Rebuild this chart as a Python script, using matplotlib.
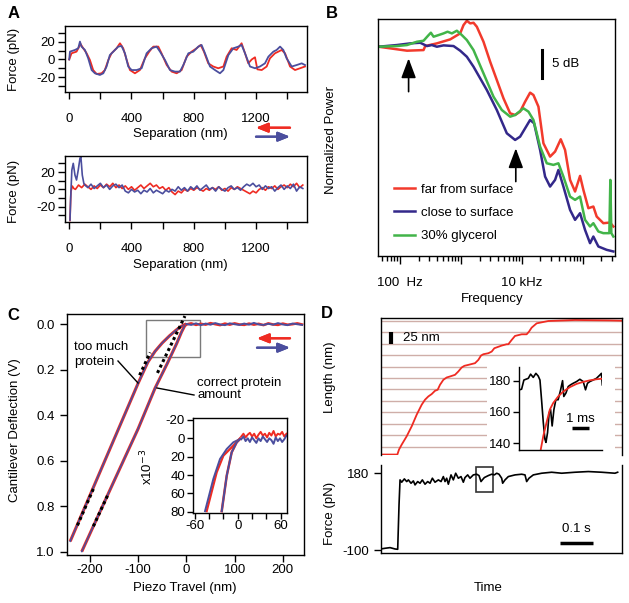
import matplotlib.pyplot as plt
from matplotlib.patches import Rectangle
from matplotlib.ticker import NullFormatter

plt.rcParams['font.family'] = ['Liberation Sans', 'DejaVu Sans']
plt.rcParams['font.size'] = 9.5
plt.rcParams['axes.linewidth'] = 1.0
plt.rcParams['axes.unicode_minus'] = False

W, H = 629, 603
RED = '#ef2b22'
BLUE = '#4b4e9e'
B_RED = '#f23a2c'
B_BLUE = '#33288a'
B_GREEN = '#42b449'
GRID = '#cfaea8'

# ---- panel A: force vs separation ----
a_top_blue_x = [0, 5, 37, 58, 69, 79, 101, 122, 144, 165, 197, 219, 240, 261, 283, 315, 336, 358, 379, 401,
                433, 465, 497, 529, 561, 583, 615, 647, 679, 711, 733, 765, 797, 829, 850, 872, 904, 936, 968, 990,
                1022, 1054, 1086, 1107, 1129, 1161, 1193, 1225, 1257, 1279, 1311, 1332, 1354, 1375, 1396, 1429,
                1461, 1493, 1514]
a_top_blue_y = [0, 8.9, 10.8, 12.7, 20.3, 14.6, 10.8, 1.3, -12, -15.7, -17.6, -15.7, -8, 5, 8.9, 14.6, 15.3, 7, -8, -12,
                -12, -10, 7, 12.7, 14.6, 8.9, -0.6, -12, -13.8, -13.8, -6.3, 7, 8.9, 14.6, 16.5, 7, -8, -12, -15.7, -12,
                5, 12.7, 14.6, 16.5, 7, -8, -10, -8, -4.4, 3.2, 8.9, 10.8, 14.6, 10.8, 1.3, -8, -6.3, -4.4, -6.3]
a_top_red_x = [0, 15, 47, 73, 90, 112, 133, 154, 176, 208, 229, 251, 272, 304, 326, 347, 369, 390, 422, 454,
               486, 514, 540, 572, 593, 626, 658, 690, 722, 754, 786, 818, 844, 865, 893, 925, 957, 990, 1011, 1043,
               1075, 1107, 1129, 1150, 1172, 1193, 1208, 1236, 1268, 1289, 1321, 1343, 1364, 1386, 1418, 1450,
               1482, 1514]
a_top_red_y = [0, 7, 8.9, 17.6, 12.7, 7, -0.6, -12, -16.5, -15.7, -12, -0.6, 7, 12.7, 18.4, 12.7, -0.6, -12, -15.7, -12,
               1.3, 8.9, 14.6, 14.6, 7, -6.3, -13.8, -15.7, -12, 3.2, 8.9, 12.7, 16.5, 8.9, -4.4, -8, -10, -8, 3.2, 12.7,
               10.8, 18.4, 7, -4.4, 0, 2.5, -11.2, -12, -8, 1.3, 7, 8.9, 10.8, 7, -8, -12, -10, -8]

a_bot_blue_x = [5, 9, 17, 26, 37, 47, 58, 69, 75, 84, 94] + list(range(100, 1501, 20))
a_bot_blue_y = [-35.4, -12.3, 22.3, 30, 16.5, 10.8, 22.3, 35.8, 37.7, 16.5, 6.9,
                5, 2, 6, 1, 4, 7, 2, 5, 0, 4, 6, 2, 5, -2, -4, 0, -3, -1, -5, -1, -3, 1, -4, -1, -3, -5, -1, -3, 0, -2,
                3, -1, 2, -2, 3, 0, 4, -1, 2, 5, 0, 2, -2, 3, 0, -2, 2, 4, 0, 2, -1, 3, 6, 4, 7, 3, 5, 0, 4, 1, 3,
                -2, 2, 5, 0, 4, 1, 6, -2, 3, 1]
a_bot_red_x = [5, 11, 20, 30] + list(range(40, 1501, 20))
a_bot_red_y = [-36, -2.7, 3.8, 1,
               0, 5, 2, 6, 3, 0, 4, 1, 5, 2, 6, 3, 7, 2, 5, 1, 4, 0, 3, -1, 2, 5, 1, 4, 7, 3, 5, 1, 3, -1, 2, -3, -6,
               -2, -4, 0, -2, 1, -1, 2, 0, -2, 1, -1, 2, 0, 3, -1, 1, -2, 2, 0, 3, 1, -1, -3, -5, -2, -4, 0, 2, -1,
               3, 1, 4, 0, 3, 5, 2, 6, 3, 7, 2, 5]

# ---- panel B: power spectra (Hz, dB) ----
b_red_f = [44, 129, 241, 257, 399, 660, 963, 1092, 1238, 1405, 1594, 1807, 2323, 2988, 3843, 4943, 6358, 7677,
           9274, 11200, 13525, 15340, 18530, 22375, 28770, 34750, 43050, 50690, 61230, 73950, 89300, 101300,
           122300, 147700, 167500, 215400, 277100, 314400]
b_red_db = [0, -0.71, -0.60, 0.12, 0.60, 1.31, 2.38, 3.87, 4.64, 4.17, 4.28, 3.57, 0.89, -2.68, -5.95, -9.22,
            -11.90, -12.20, -11.60, -9.82, -8.21, -8.63, -10.71, -17.26, -19.64, -18.74, -16.54, -18.45, -23.80,
            -25.88, -23.09, -25.59, -28.86, -28.56, -30.35, -31.54, -31.42, -32.13]
b_blue_f = [44, 88, 146, 213, 274, 330, 399, 513, 749, 963, 1238, 1593, 2049, 2636, 3843, 5606, 7677, 9274,
            11200, 13525, 15730, 19730, 23825, 28770, 34750, 39410, 47610, 61230, 73950, 89300, 107800, 130250,
            147700, 178400, 244300, 314400]
b_blue_db = [0, 0.30, 0.60, 0.71, 0.12, 0.30, 0, 0.24, 0.12, -0.71, -1.79, -3.57, -5.65, -7.74, -11.31, -15.47,
             -16.66, -16.07, -14.58, -13.09, -13.69, -18.45, -23.21, -24.99, -23.80, -22.02, -24.99, -29.16,
             -30.94, -29.75, -32.73, -35.11, -33.92, -35.70, -36.30, -36.59]
b_green_f = [44, 88, 129, 188, 241, 292, 318, 352, 425, 513, 597, 703, 849, 1025, 1238, 1593, 2323, 3390, 4642,
             6358, 7677, 10517, 12700, 15340, 19730, 25375, 32640, 39410, 47610, 61230, 73950, 89300, 107800,
             130250, 147700, 178400, 215400, 270300, 280600, 291400, 314400]
b_green_db = [0, 0.12, 0.30, 0.89, 1.07, 2.08, 2.50, 1.79, 2.08, 2.38, 2.68, 2.38, 2.86, 2.08, 1.19, -0.60,
              -4.76, -8.93, -11.31, -12.50, -12.20, -11.01, -11.60, -13.09, -17.85, -20.83, -21.12, -20.83,
              -23.21, -26.78, -27.37, -26.78, -30.94, -32.13, -31.54, -33.02, -33.32, -33.32, -23.80, -33.32, -33.92]
b_labels = ['far from surface', 'close to surface', '30% glycerol']

# ---- panel C: deflection vs piezo travel ----
c_much_x = [-241, -170, -100, -80, -65, -50, -35, -22, -12, -5, 0]
c_much_y = [0.955, 0.605, 0.26, 0.168, 0.12, 0.083, 0.052, 0.028, 0.012, 0.004, 0.0]
c_ok_x = [-217, -150, -100, -65, -40, -20, -10, -4, 0]
c_ok_y = [1.0, 0.69, 0.46, 0.282, 0.175, 0.085, 0.035, 0.01, 0.0]
c_flat_x = list(range(0, 241, 10))
c_flat_blue = [0.000, 0.004, -0.003, 0.005, -0.002, 0.003, -0.004, 0.002, 0.005, -0.003, 0.001, 0.004, -0.002,
               0.003, -0.005, 0.002, 0.004, -0.001, 0.003, -0.004, 0.002, 0.005, -0.002, 0.001, 0.004]
c_flat_red = [0.002, -0.003, 0.004, -0.001, 0.003, -0.004, 0.001, 0.005, -0.002, 0.003, -0.003, 0.002, 0.004,
              -0.002, 0.003, -0.001, 0.005, -0.003, 0.002, 0.004, -0.002, 0.003, 0.001, -0.003, 0.002]
c_fit_segments = [([-226, -193], [0.885, 0.725]), ([-97, -75], [0.225, 0.125]),
                  ([-193, -162], [0.889, 0.747]), ([-60, -3], [0.215, -0.035])]

ci_much_blue_x = [-45.6, -34, -24.7, -15.3, -6.1, 3.2]
ci_much_blue_y = [79.3, 44.2, 22.5, 11.6, 4.3, 0.8]
ci_much_red_x = [-43.3, -29.3, -20, -6.1, 3.2]
ci_much_red_y = [79.3, 37, 18.9, 8, 0]
ci_ok_x = [-22.3, -15.3, -8.4, -1.4, 3.2]
ci_ok_y = [79.3, 40.6, 15.2, 4.3, 0.8]
ci_flat_x = [5, 8, 11, 14, 17, 20, 23, 26, 29, 32, 35, 38, 41, 44, 47, 50, 53, 56, 59, 62, 65, 68]
ci_flat_red = [-2, -5, -1, -4, -6, -2, -5, 0, -4, -7, -3, -5, -1, -6, -3, -8, -2, -5, -4, -7, -2, -5]
ci_flat_blue = [1, -2, 3, 0, 4, -1, 2, 5, 0, 3, -2, 1, 4, 0, 2, 6, -1, 3, 0, 4, 1, -3]

# ---- panel D: length / force vs time (s) ----
d_len_t = [0, 0.049, 0.0539, 0.0618, 0.0765, 0.0912, 0.1059, 0.1206, 0.1304, 0.1402, 0.1500, 0.1598, 0.1676,
           0.1745, 0.1843, 0.1941, 0.2039, 0.2186, 0.2284, 0.2382, 0.2461, 0.2578, 0.2775, 0.2873, 0.2951,
           0.3020, 0.3167, 0.3265, 0.3343, 0.3559, 0.3706, 0.3755, 0.3853, 0.3951, 0.4147, 0.4294, 0.4363,
           0.4441, 0.4588, 0.4931, 0.5716, 0.6696, 0.7088]
d_len_nm = [0, 0, 10.9, 21.7, 39.9, 61.6, 87, 108.7, 119.6, 126.8, 131.9, 139.1, 141.3, 152.2, 163, 168.1, 170.3,
            173.9, 181.2, 189.9, 193.5, 195.6, 199.3, 206.5, 215.9, 218.8, 221, 224.6, 231.9, 237.7, 240.6,
            240.6, 250, 258.7, 262.3, 262.3, 268.1, 276.8, 286.2, 291.3, 293.5, 292.7, 292]
d_grid_nm = [17, 42, 67, 92, 117, 142, 167, 192, 217, 242, 267, 292]

d_force_t = [0, 0.0127, 0.0275, 0.0422, 0.05, 0.0539, 0.0569, 0.0618, 0.0696, 0.0765, 0.0814, 0.0892, 0.0961,
             0.101, 0.1088, 0.1157, 0.1225, 0.1304, 0.1382, 0.1451, 0.152, 0.1598, 0.1696, 0.1775, 0.1843,
             0.1892, 0.1941, 0.199, 0.2069, 0.2137, 0.2206, 0.2284, 0.2363, 0.2431, 0.248, 0.2559, 0.2627,
             0.2725, 0.2824, 0.2892, 0.2951, 0.299, 0.3049, 0.3167, 0.3265, 0.3343, 0.3412, 0.348, 0.3559,
             0.3588, 0.3657, 0.3755, 0.3951, 0.4147, 0.4245, 0.4294, 0.4363, 0.449, 0.4735, 0.5029, 0.5324,
             0.5716, 0.6108, 0.65, 0.6892, 0.6971]
d_force_pn = [-96.2, -93.7, -91.3, -96.2, -97.4, 64.4, 155.7, 147.2, 159.3, 149.6, 155.7, 143.5, 152, 137.4,
              149.6, 143.5, 155.7, 139.9, 149.6, 143.5, 161.8, 147.2, 155.7, 149.6, 167.8, 149.6, 161.8, 139.9,
              173.9, 155.7, 180, 161.8, 167.8, 147.2, 164.2, 173.9, 161.8, 173.9, 176.4, 171.5, 149.6, 155.7,
              164.2, 171.5, 176.4, 173.9, 180, 176.4, 161.8, 143.5, 155.7, 167.8, 173.9, 176.4, 173.9, 149.6,
              161.8, 173.9, 180, 183.6, 180, 183.6, 186.1, 183.6, 180, 183.6]

d_in_black_t = [0, 0.13, 0.26, 0.51, 0.64, 0.79, 0.94, 1.07, 1.17, 1.26, 1.36, 1.45, 1.51, 1.6, 1.69, 1.77,
                1.86, 1.96, 2.07, 2.2, 2.34, 2.45, 2.52, 2.64, 2.77, 2.9, 3.05, 3.24, 3.43, 3.62, 3.75, 3.86,
                3.99, 4.18, 4.37, 4.56, 4.65, 4.7]
d_in_black_pn = [174.3, 174.7, 180.6, 181.7, 184.4, 182.3, 184.9, 183.2, 180.6, 167.9, 153.1, 142.5, 140.4,
                 146.7, 159.4, 161.6, 151.0, 161.6, 167.9, 167.9, 174.3, 180.2, 170.0, 172.2, 176.4, 177.5,
                 178.5, 179.6, 181.1, 179.6, 174.3, 178.5, 179.6, 180.6, 181.7, 183.8, 184.9, 177.5]
d_in_fit_t = [1.22, 1.36, 1.54, 1.73, 1.92, 2.2, 2.49, 2.86, 3.24, 3.62, 3.99, 4.37, 4.7]
d_in_fit_pn = [136.1, 144.6, 153.1, 161.6, 165.8, 170.0, 173.2, 176.0, 178.1, 179.4, 180.4, 181.1, 181.5]

fig = plt.figure(figsize=(W / 100, H / 100), dpi=100)


def add_box(x0, y0, x1, y1):
    return fig.add_axes([x0 / W, 1 - y1 / H, (x1 - x0) / W, (y1 - y0) / H])


def put(x, y, s, **kw):
    kw.setdefault('ha', 'center')
    kw.setdefault('va', 'center')
    fig.text(x / W, 1 - y / H, s, **kw)


def arrow(x0, x1, y, color):
    fig.add_artist(plt.annotate('', xy=(x1, H - y), xytext=(x0, H - y), xycoords='figure pixels',
                                arrowprops=dict(arrowstyle='-|>,head_length=0.7,head_width=0.28',
                                                color=color, lw=1.6, mutation_scale=10, shrinkA=0, shrinkB=0)))


# A top and bottom
axA1 = add_box(65, 26, 306.7, 91.7)
axA2 = add_box(65, 156, 306.7, 221.7)
axA1.plot(a_top_red_x, a_top_red_y, color=RED, lw=1.3)
axA1.plot(a_top_blue_x, a_top_blue_y, color=BLUE, lw=1.3)
axA2.plot(a_bot_red_x, a_bot_red_y, color=RED, lw=1.2)
axA2.plot(a_bot_blue_x, a_bot_blue_y, color=BLUE, lw=1.2)
for a in (axA1, axA2):
    a.set_xlim(-27, 1525)
    a.set_xticks([0, 400, 800, 1200])
    a.set_xticks([200, 600, 1000, 1400], minor=True)
    a.set_yticks([-20, 0, 20])
    a.set_yticks([-30, -10, 10, 30], minor=True)
    a.tick_params(which='both', direction='out', length=5, width=1)
    a.tick_params(axis='x', pad=10)
    a.tick_params(axis='y', pad=2)
axA1.set_ylim(-36.6, 38)
axA2.set_ylim(-37.3, 38.5)
put(14, 14, 'A', fontsize=12, fontweight='bold')
put(14, 59, 'Force (pN)', rotation=90)
put(14, 191, 'Force (pN)', rotation=90)
put(180, 134, 'Separation (nm)')
put(180, 265, 'Separation (nm)')
arrow(290, 256, 127.7, RED)
arrow(256, 290, 136.7, BLUE)

# B
axB = add_box(378.3, 19.3, 615, 256)
axB.plot(b_red_f, b_red_db, color=B_RED, lw=1.8, label=b_labels[0])
axB.plot(b_blue_f, b_blue_db, color=B_BLUE, lw=1.8, label=b_labels[1])
axB.plot(b_green_f, b_green_db, color=B_GREEN, lw=1.8, label=b_labels[2])
axB.set_xscale('log')
axB.set_xlim(43.6, 334600)
axB.set_ylim(-37.4, 4.9)
axB.set_yticks([])
axB.set_xticks([100, 1000, 10000, 100000])
axB.set_xticklabels(['100  Hz', '', '10 kHz', ''])
axB.xaxis.set_minor_formatter(NullFormatter())
axB.tick_params(which='major', direction='out', length=6, width=1, pad=9)
axB.tick_params(which='minor', direction='out', length=3.5, width=1)
axB.legend(loc='lower left', bbox_to_anchor=(0.045, 0.035), frameon=False, handlelength=1.6,
           handletextpad=0.45, labelspacing=0.85, borderaxespad=0)
axB.plot([21540, 21540], [-0.6, -5.65], color='black', lw=2.2)
axB.text(30640, -3.1, '5 dB', va='center', ha='left')
for f, y0, y1 in [(137, -8.03, -2.08), (7875, -24.1, -18.15)]:
    axB.annotate('', xy=(f, y1), xytext=(f, y0),
                 arrowprops=dict(arrowstyle='-|>,head_length=1.2,head_width=0.45', color='black',
                                 lw=1.2, mutation_scale=10, shrinkA=0, shrinkB=0))
put(332, 13, 'B', fontsize=12, fontweight='bold')
put(331, 140, 'Normalized Power', rotation=90)
put(492, 299, 'Frequency')

# C
axC = add_box(67.3, 314, 304, 554.5)
for xs, ys in [(c_much_x, c_much_y), (c_ok_x, c_ok_y)]:
    axC.plot(xs, ys, color=RED, lw=2.2, solid_capstyle='butt')
    axC.plot(xs, ys, color=BLUE, lw=1.1)
axC.plot(c_flat_x, c_flat_red, color=RED, lw=1.8)
axC.plot(c_flat_x, c_flat_blue, color=BLUE, lw=1.4)
for xs, ys in c_fit_segments:
    axC.plot(xs, ys, color='black', lw=2.2, ls=(0, (1, 1)))
axC.add_patch(Rectangle((-83.6, -0.0175), 112, 0.1635, fill=False, edgecolor='#7a7a7a', lw=1))
axC.set_xlim(-247, 244)
axC.set_ylim(1.013, -0.044)
axC.set_xticks([-200, -100, 0, 100, 200])
axC.set_yticks([0.0, 0.2, 0.4, 0.6, 0.8, 1.0])
axC.set_yticklabels(['0.0', '0.2', '0.4', '0.6', '0.8', '1.0'])
axC.tick_params(direction='out', length=5, width=1)
axC.tick_params(axis='x', pad=2)
axC.tick_params(axis='y', pad=4)
put(13, 315, 'C', fontsize=12, fontweight='bold')
put(15, 430, 'Cantilever Deflection (V)', rotation=90)
put(185, 588, 'Piezo Travel (nm)')
put(74, 347, 'too much', ha='left')
put(74, 362, 'protein', ha='left')
put(197, 383, 'correct protein', ha='left')
put(197, 395, 'amount', ha='left')
fig.add_artist(plt.Line2D([118 / W, 138 / W], [1 - 361 / H, 1 - 383 / H], color='black', lw=1))
fig.add_artist(plt.Line2D([157 / W, 194 / W], [1 - 388 / H, 1 - 395 / H], color='black', lw=1))
arrow(290, 257, 338.3, RED)
arrow(257, 290, 347.7, BLUE)

axCi = add_box(192.7, 418.3, 287.3, 512.7)
axCi.plot(ci_much_red_x, ci_much_red_y, color=RED, lw=1.6)
axCi.plot(ci_much_blue_x, ci_much_blue_y, color=BLUE, lw=1.4)
axCi.plot(ci_ok_x, ci_ok_y, color=RED, lw=1.8)
axCi.plot(ci_ok_x, ci_ok_y, color=BLUE, lw=1.4)
axCi.plot(ci_flat_x, ci_flat_red, color=RED, lw=1.4)
axCi.plot(ci_flat_x, ci_flat_blue, color=BLUE, lw=1.4)
axCi.set_xlim(-62.8, 69.2)
axCi.set_ylim(81, -21.8)
axCi.set_xticks([-60, 0, 60])
axCi.set_xticks([-40, -20, 20, 40], minor=True)
axCi.set_yticks([-20, 0, 20, 40, 60, 80])
axCi.tick_params(which='both', direction='out', length=4, width=1, pad=1.5)
put(147, 467, 'x10$^{-3}$', rotation=90)

# D top: length
axD = add_box(380.7, 317.7, 621.7, 455)
for g in d_grid_nm:
    axD.axhline(g, color=GRID, lw=1, zorder=0)
axD.add_patch(Rectangle((0.312, 3), 0.377, 192, facecolor='white', edgecolor='none', zorder=1))
axD.plot(d_len_t, d_len_nm, color=RED, lw=1.3, zorder=2)
axD.plot([0.0294, 0.0294], [242, 267], color='black', lw=3, solid_capstyle='butt')
axD.text(0.0667, 254, '25 nm', va='center', ha='left')
axD.set_xlim(0, 0.709)
axD.set_ylim(-1, 298.5)
axD.spines['bottom'].set_visible(False)
axD.set_xticks([])
axD.set_yticks([])
put(327, 314, 'D', fontsize=12, fontweight='bold')
put(330, 377, 'Length (nm)', rotation=90)

axDi = add_box(519.3, 366.7, 602.3, 450)
axDi.patch.set_alpha(0)
axDi.plot(d_in_black_t, d_in_black_pn, color='black', lw=1.2)
axDi.plot(d_in_fit_t, d_in_fit_pn, color=RED, lw=1.3)
axDi.plot([2.97, 3.97], [149.4, 149.4], color='black', lw=2.5, solid_capstyle='butt')
axDi.text(3.47, 155.4, '1 ms', ha='center', va='center')
axDi.set_xlim(0, 4.7)
axDi.set_ylim(135.5, 189.2)
axDi.spines[['top', 'right']].set_visible(False)
axDi.set_xticks([])
axDi.set_yticks([140, 160, 180])
axDi.tick_params(direction='out', length=4, width=1, pad=1.5)

# D bottom: force
axF = add_box(380.7, 465, 621.7, 553.3)
axF.plot(d_force_t, d_force_pn, color='black', lw=1.2)
axF.add_patch(Rectangle((0.279, 113), 0.052, 88, fill=False, edgecolor='#333333', lw=1.2))
axF.plot([0.5275, 0.6255], [-75.5, -75.5], color='black', lw=2.5, solid_capstyle='butt')
axF.text(0.576, -23, '0.1 s', ha='center', va='center')
axF.set_xlim(0, 0.709)
axF.set_ylim(-112, 210)
axF.spines['top'].set_visible(False)
axF.set_xticks([])
axF.set_yticks([-100, 180])
axF.tick_params(direction='out', length=5, width=1, pad=3)
put(330, 513, 'Force (pN)', rotation=90)
put(488, 588, 'Time')

fig.savefig('out.png', dpi=100)
